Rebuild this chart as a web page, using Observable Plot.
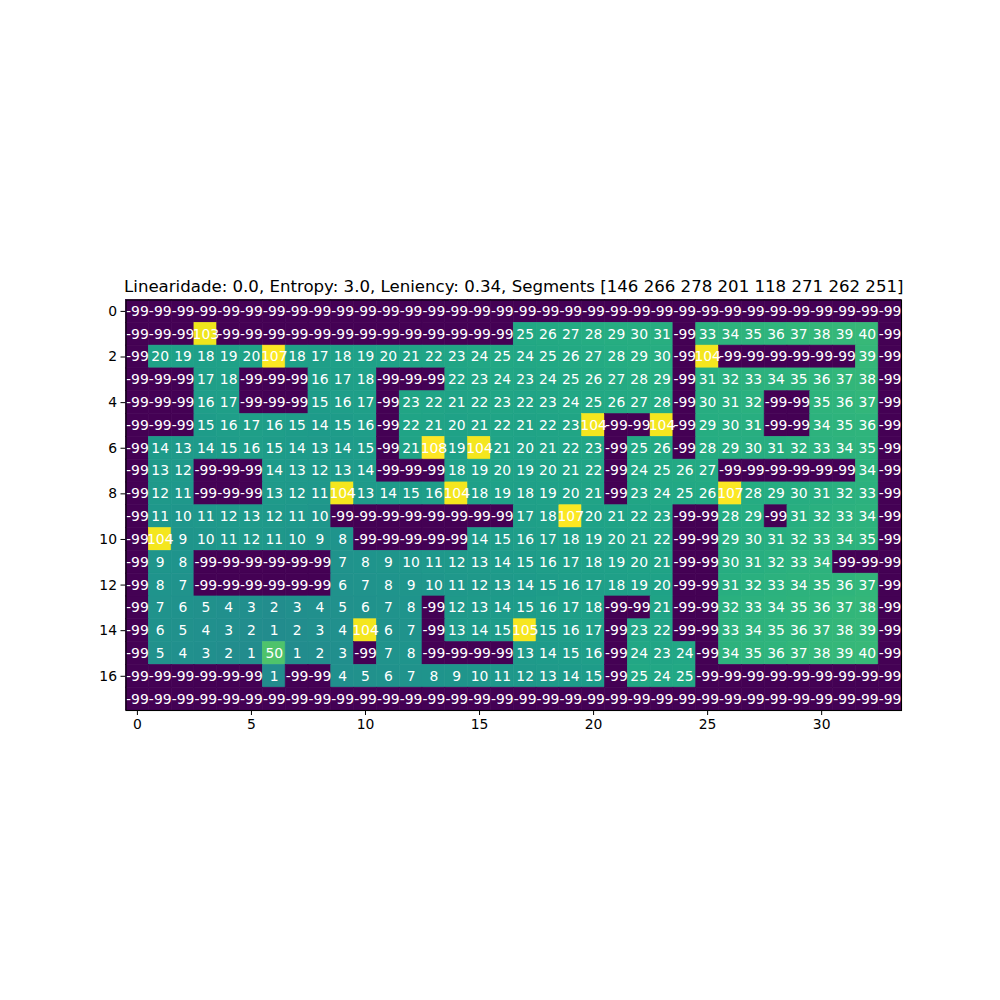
<!DOCTYPE html>
<html>
<head>
<meta charset="utf-8">
<script src="https://cdn.jsdelivr.net/npm/d3@7"></script>
<script src="https://cdn.jsdelivr.net/npm/@observablehq/plot@0.6"></script>
<style>
  html, body { margin: 0; padding: 0; background: #fff; }
  #chart svg { display: block; }
</style>
</head>
<body>
<div id="chart"></div>
<script>
const title = "Linearidade: 0.0, Entropy: 3.0, Leniency: 0.34, Segments [146 266 278 201 118 271 262 251]";
const xTicks = [0, 5, 10, 15, 20, 25, 30];
const yTicks = [0, 2, 4, 6, 8, 10, 12, 14, 16];

const row00 = [-99,-99,-99,-99,-99,-99,-99,-99,-99,-99,-99,-99,-99,-99,-99,-99,-99,-99,-99,-99,-99,-99,-99,-99,-99,-99,-99,-99,-99,-99,-99,-99,-99,-99];
const row01 = [-99,-99,-99,103,-99,-99,-99,-99,-99,-99,-99,-99,-99,-99,-99,-99,-99,25,26,27,28,29,30,31,-99,33,34,35,36,37,38,39,40,-99];
const row02 = [-99,20,19,18,19,20,107,18,17,18,19,20,21,22,23,24,25,24,25,26,27,28,29,30,-99,104,-99,-99,-99,-99,-99,-99,39,-99];
const row03 = [-99,-99,-99,17,18,-99,-99,-99,16,17,18,-99,-99,-99,22,23,24,23,24,25,26,27,28,29,-99,31,32,33,34,35,36,37,38,-99];
const row04 = [-99,-99,-99,16,17,-99,-99,-99,15,16,17,-99,23,22,21,22,23,22,23,24,25,26,27,28,-99,30,31,32,-99,-99,35,36,37,-99];
const row05 = [-99,-99,-99,15,16,17,16,15,14,15,16,-99,22,21,20,21,22,21,22,23,104,-99,-99,104,-99,29,30,31,-99,-99,34,35,36,-99];
const row06 = [-99,14,13,14,15,16,15,14,13,14,15,-99,21,108,19,104,21,20,21,22,23,-99,25,26,-99,28,29,30,31,32,33,34,35,-99];
const row07 = [-99,13,12,-99,-99,-99,14,13,12,13,14,-99,-99,-99,18,19,20,19,20,21,22,-99,24,25,26,27,-99,-99,-99,-99,-99,-99,34,-99];
const row08 = [-99,12,11,-99,-99,-99,13,12,11,104,13,14,15,16,104,18,19,18,19,20,21,-99,23,24,25,26,107,28,29,30,31,32,33,-99];
const row09 = [-99,11,10,11,12,13,12,11,10,-99,-99,-99,-99,-99,-99,-99,-99,17,18,107,20,21,22,23,-99,-99,28,29,-99,31,32,33,34,-99];
const row10 = [-99,104,9,10,11,12,11,10,9,8,-99,-99,-99,-99,-99,14,15,16,17,18,19,20,21,22,-99,-99,29,30,31,32,33,34,35,-99];
const row11 = [-99,9,8,-99,-99,-99,-99,-99,-99,7,8,9,10,11,12,13,14,15,16,17,18,19,20,21,-99,-99,30,31,32,33,34,-99,-99,-99];
const row12 = [-99,8,7,-99,-99,-99,-99,-99,-99,6,7,8,9,10,11,12,13,14,15,16,17,18,19,20,-99,-99,31,32,33,34,35,36,37,-99];
const row13 = [-99,7,6,5,4,3,2,3,4,5,6,7,8,-99,12,13,14,15,16,17,18,-99,-99,21,-99,-99,32,33,34,35,36,37,38,-99];
const row14 = [-99,6,5,4,3,2,1,2,3,4,104,6,7,-99,13,14,15,105,15,16,17,-99,23,22,-99,-99,33,34,35,36,37,38,39,-99];
const row15 = [-99,5,4,3,2,1,50,1,2,3,-99,7,8,-99,-99,-99,-99,13,14,15,16,-99,24,23,24,-99,34,35,36,37,38,39,40,-99];
const row16 = [-99,-99,-99,-99,-99,-99,1,-99,-99,4,5,6,7,8,9,10,11,12,13,14,15,-99,25,24,25,-99,-99,-99,-99,-99,-99,-99,-99,-99];
const row17 = [-99,-99,-99,-99,-99,-99,-99,-99,-99,-99,-99,-99,-99,-99,-99,-99,-99,-99,-99,-99,-99,-99,-99,-99,-99,-99,-99,-99,-99,-99,-99,-99,-99,-99];

const rows = [row00,row01,row02,row03,row04,row05,row06,row07,row08,row09,row10,row11,row12,row13,row14,row15,row16,row17];
const nCols = 34, nRows = rows.length;
const cells = [];
rows.forEach((r, y) => r.forEach((v, x) => cells.push({x, y, v})));

const font = "DejaVu Sans, Liberation Sans, sans-serif";
const chart = Plot.plot({
  width: 1000,
  height: 1000,
  marginLeft: 125.5,
  marginRight: 99,
  marginTop: 299.5,
  marginBottom: 290,
  style: {fontFamily: font, fontSize: "13.9px", color: "black", background: "white", overflow: "visible"},
  x: {type: "band", domain: d3.range(nCols), padding: 0, round: false, ticks: xTicks, tickSize: 5, tickPadding: 4, label: null},
  y: {type: "band", domain: d3.range(nRows), padding: 0, round: false, ticks: yTicks, tickSize: 5, tickPadding: 4, label: null},
  color: {type: "linear", scheme: "viridis", domain: [d3.min(cells, d => d.v), d3.max(cells, d => d.v)]},
  marks: [
    Plot.cell(cells, {x: "x", y: "y", fill: "v", stroke: "v", strokeWidth: 0.6, inset: 0}),
    Plot.text(cells, {x: "x", y: "y", text: d => String(d.v), fill: "white", fontSize: 13.9, fontFamily: font}),
    Plot.frame({stroke: "black", strokeWidth: 1.1}),
    Plot.text([title], {frameAnchor: "top", lineAnchor: "middle", dy: -13.5, fontSize: 16.6, fontFamily: font, fill: "black"})
  ]
});
document.getElementById("chart").appendChild(chart);
</script>
</body>
</html>
